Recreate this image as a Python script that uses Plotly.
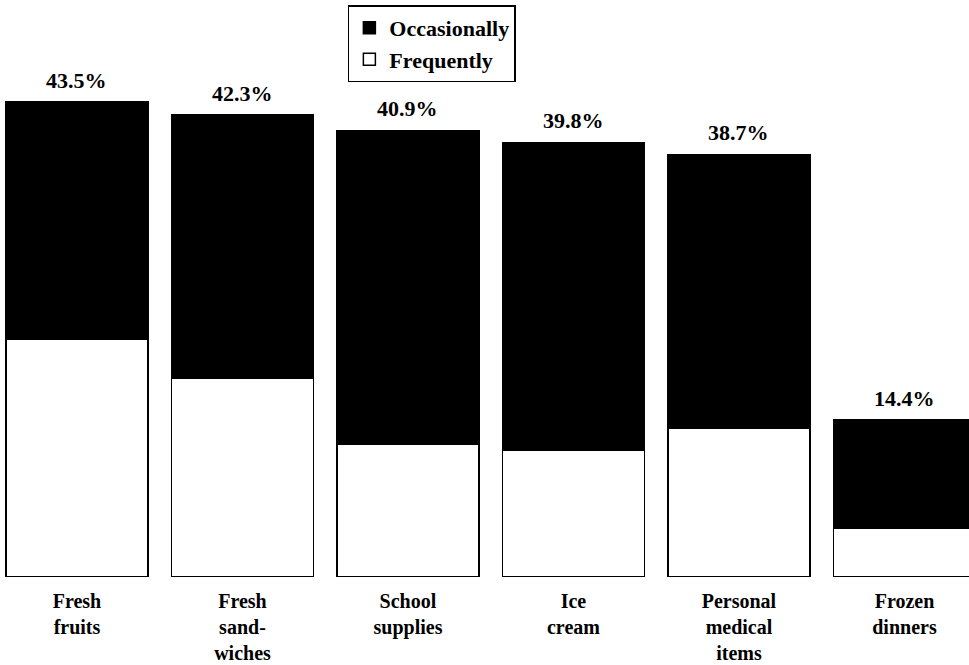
import plotly.graph_objects as go

categories = ["Fresh<br>fruits", "Fresh<br>sand-<br>wiches", "School<br>supplies",
              "Ice<br>cream", "Personal<br>medical<br>items", "Frozen<br>dinners"]
totals = [43.5, 42.3, 40.9, 39.8, 38.7, 14.4]
frequently = [21.8, 18.2, 12.2, 11.6, 13.6, 4.5]
occasionally = [round(t - f, 1) for t, f in zip(totals, frequently)]
total_labels = ["43.5%", "42.3%", "40.9%", "39.8%", "38.7%", "14.4%"]

FONT = "Liberation Serif"
xs = list(range(len(categories)))

fig = go.Figure()
fig.add_trace(go.Bar(x=xs, y=frequently, name="Frequently", width=0.86,
                     marker=dict(color="white", line=dict(color="black", width=1.5))))
fig.add_trace(go.Bar(x=xs, y=occasionally, name="Occasionally", width=0.86,
                     marker=dict(color="black", line=dict(color="black", width=1.5))))

for i, (t, lab) in enumerate(zip(totals, total_labels)):
    fig.add_annotation(x=i, y=t, text=lab, showarrow=False, yanchor="bottom",
                       yshift=7, font=dict(family=FONT, size=22, color="black", weight="bold"))

fig.update_layout(
    width=969, height=665,
    margin=dict(l=0, r=0, t=31, b=88),
    barmode="stack",
    plot_bgcolor="white", paper_bgcolor="white",
    font=dict(family=FONT, size=20, color="black", weight="bold"),
    xaxis=dict(range=[-0.465, 5.39], tickvals=xs, ticktext=categories,
               showgrid=False, zeroline=False, showline=False, ticks="",
               ticklabelstandoff=10, automargin=False,
               tickfont=dict(family=FONT, size=20, weight="bold")),
    yaxis=dict(range=[0, 50], visible=False, showgrid=False, zeroline=False,
               automargin=False),
    legend=dict(x=0.359, y=1.047, xanchor="left", yanchor="top",
                traceorder="reversed", bordercolor="black", borderwidth=1.5,
                bgcolor="white", itemwidth=30, tracegroupgap=0,
                font=dict(family=FONT, size=22, weight="bold")),
    showlegend=True,
)

fig.write_html("out.html")
